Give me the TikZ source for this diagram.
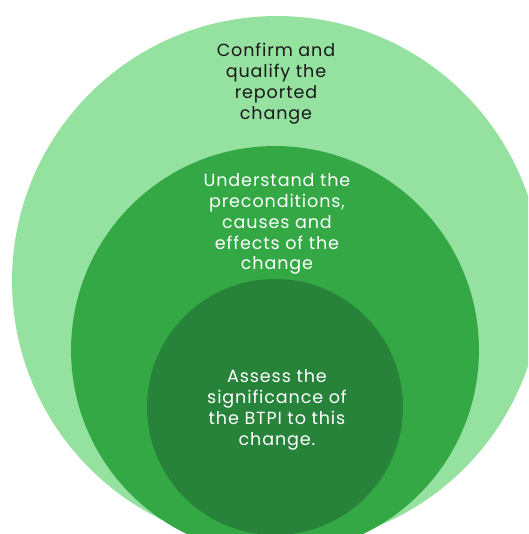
\documentclass[tikz,border=0pt]{standalone}
\usepackage{fontspec}
\setmainfont{Poppins}[LetterSpace=5]
\usetikzlibrary{positioning}

\definecolor{ringLight}{HTML}{95E1A0}
\definecolor{ringMid}{HTML}{33A845}
\definecolor{ringDark}{HTML}{27823A}

\begin{document}
\begin{tikzpicture}[x=0.02cm, y=-0.02cm,
		every node/.style={align=center, font=\fontsize{10}{11.9}\selectfont},
		ring/.style={circle, inner sep=0pt, draw=none},
		outerRing/.style={ring, fill=ringLight, minimum size=10.6cm},
		midRing/.style={ring, fill=ringMid, minimum size=8.16cm},
		innerRing/.style={ring, fill=ringDark, minimum size=5.12cm},
		darkLabel/.style={text=black!90},
		lightLabel/.style={text=white}
	]

	% page frame, the rings run off the bottom and right edges
	\fill[white] (0,0) rectangle (528,534);
	\useasboundingbox (0,0) rectangle (528,534);
	\clip (0,0) rectangle (528,534);

	% nested rings
	\node[outerRing] (R1) at (277,281) {};
	\node[midRing] (R2) at (275,350) {};
	\node[innerRing] (R3) at (275,407) {};

	% ring labels
	\node[darkLabel] (L1) at (276,84) {Confirm and\\qualify the\\reported\\change};
	\node[lightLabel] (L2) at (277,224) {Understand the\\preconditions,\\causes and\\effects of the\\change};
	\node[lightLabel] (L3) at (277,410) {Assess the\\significance of\\the BTPI to this\\change.};
\end{tikzpicture}
\end{document}
